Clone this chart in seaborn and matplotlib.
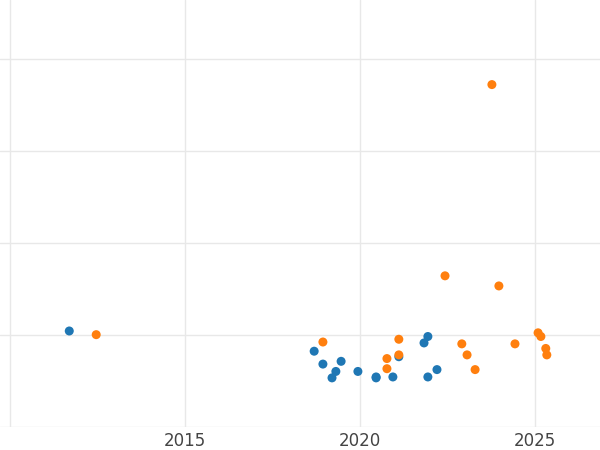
import matplotlib
matplotlib.use("Agg")
import matplotlib.pyplot as plt
import seaborn as sns
import pandas as pd

# values
blue_x = [2011.69, 2018.69, 2018.94, 2019.2, 2019.31, 2019.46, 2019.94, 2020.46, 2020.46,
          2020.94, 2021.11, 2021.83, 2021.94, 2021.94, 2022.2]
blue_y = [1.04, 0.82, 0.68, 0.53, 0.60, 0.71, 0.60, 0.54, 0.53,
          0.54, 0.76, 0.91, 0.98, 0.54, 0.62]
orange_x = [2012.46, 2018.94, 2020.77, 2020.77, 2021.11, 2021.11, 2022.43, 2022.91, 2023.06,
            2023.29, 2023.77, 2023.97, 2024.43, 2025.09, 2025.17, 2025.31, 2025.34]
orange_y = [1.0, 0.92, 0.74, 0.63, 0.95, 0.78, 1.64, 0.90, 0.78,
            0.62, 3.72, 1.53, 0.90, 1.02, 0.98, 0.85, 0.78]

df = pd.concat([
    pd.DataFrame({"x": blue_x, "y": blue_y, "s": "a"}),
    pd.DataFrame({"x": orange_x, "y": orange_y, "s": "b"}),
])

sns.set_style("whitegrid")
fig, ax = plt.subplots(figsize=(6, 4.5), dpi=100)
fig.subplots_adjust(left=0.0, right=1.0, top=1.0, bottom=0.052)
sns.scatterplot(data=df, x="x", y="y", hue="s", palette=["#1f77b4", "#ff7f0e"],
                s=42, edgecolor="none", legend=False, ax=ax)
ax.set_xlim(2009.71, 2026.86)
ax.set_ylim(0, 4.64)
ax.set_xticks([2010, 2015, 2020, 2025])
ax.set_xticklabels(["", "2015", "2020", "2025"])
ax.set_yticks([0, 1, 2, 3, 4])
ax.set_yticklabels([])
ax.tick_params(axis="x", labelsize=12, colors="#444444", length=0, pad=4)
ax.tick_params(axis="y", length=0)
ax.grid(color="#e8e8e8", linewidth=1)
for sp in ax.spines.values():
    sp.set_visible(False)
ax.set_xlabel("")
ax.set_ylabel("")
fig.savefig("out.png")
